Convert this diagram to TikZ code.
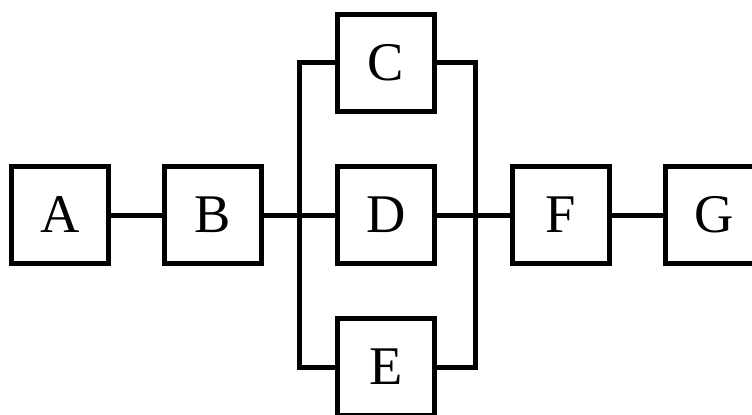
\documentclass[tikz,border=0pt]{standalone}
\usepackage{fontspec}
\setmainfont{Liberation Serif}
\begin{document}
\begin{tikzpicture}
      \tikzset{block/.style = {shape=rectangle,draw,line width=0.1cm,minimum size=1.94cm,inner sep=0pt,font=\fontsize{31}{31}\selectfont}}
      \tikzset{wire/.style = {-,line width=0.1cm}}
      \useasboundingbox (0,0) rectangle (15.04,8.28);
      \node[block] (A) at (1.2, 3.98) {A};
      \node[block] (B) at (4.25, 3.98) {B};
      \node[block] (C) at (7.72, 7.02) {C};
      \node[block] (D) at (7.72, 3.98) {D};
      \node[block] (E) at (7.72, 0.94) {E};
      \node[block] (F) at (11.22, 3.98) {F};
      \node[block] (G) at (14.28, 3.98) {G};
      \coordinate (jl) at (5.99, 3.98);
      \coordinate (jr) at (9.51, 3.98);

      \draw[wire] (A) -- (B);
      \draw[wire] (B) -- (D);
      \draw[wire] (C.west) -| (jl) |- (E.west);
      \draw[wire] (C.east) -| (jr) |- (E.east);
      \draw[wire] (D) -- (F);
      \draw[wire] (F) -- (G);
    \end{tikzpicture}
\end{document}
